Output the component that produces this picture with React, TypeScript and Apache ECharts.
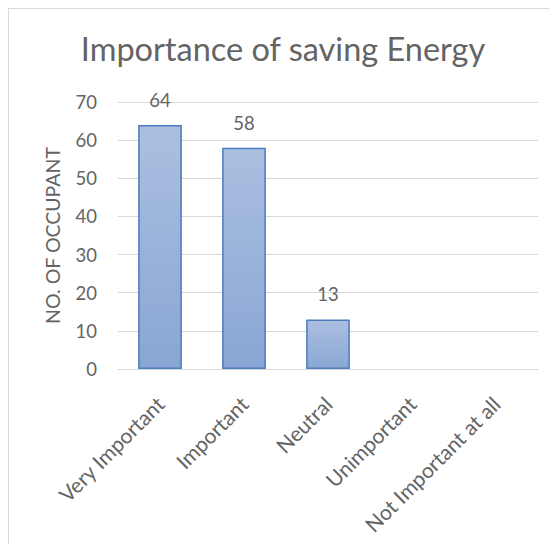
import React, { useEffect, useRef } from "react";
import * as echarts from "echarts";

const categories = ["Very Important", "Important", "Neutral", "Unimportant", "Not Important at all"];
const occupants = [64, 58, 13, 0, 0];
const yTicks = { min: 0, max: 70, interval: 10 };

const FONT = "Lato, 'Open Sans', sans-serif";
const TEXT = "#646464";

export default function App() {
  const ref = useRef<HTMLDivElement>(null);

  useEffect(() => {
    if (!ref.current) return;
    const chart = echarts.init(ref.current, undefined, { renderer: "svg" });
    chart.setOption({
      animation: false,
      backgroundColor: "#ffffff",
      title: {
        text: "Importance of saving Energy",
        left: "center",
        top: 18,
        textStyle: { color: TEXT, fontFamily: FONT, fontSize: 32.5, fontWeight: "normal" },
      },
      grid: { left: 109, right: 19, top: 93, bottom: 175, containLabel: false },
      xAxis: {
        type: "category",
        data: categories,
        axisLine: { show: true, lineStyle: { color: "#d9d9d9", width: 1 } },
        axisTick: { show: false },
        axisLabel: {
          interval: 0,
          rotate: 45,
          margin: 31,
          color: TEXT,
          fontFamily: FONT,
          fontSize: 21,
        },
      },
      yAxis: {
        type: "value",
        min: yTicks.min,
        max: yTicks.max,
        interval: yTicks.interval,
        name: "NO. OF OCCUPANT",
        nameLocation: "middle",
        nameRotate: 90,
        nameGap: 56,
        nameTextStyle: { color: TEXT, fontFamily: FONT, fontSize: 19.5 },
        axisLine: { show: false },
        axisTick: { show: false },
        splitLine: { lineStyle: { color: "#d9d9d9", width: 1 } },
        axisLabel: { margin: 21, color: TEXT, fontFamily: FONT, fontSize: 18.5 },
      },
      series: [
        {
          type: "bar",
          data: occupants.map((v) => (v > 0 ? v : null)),
          barWidth: "52%",
          itemStyle: {
            color: new echarts.graphic.LinearGradient(0, 0, 0, 1, [
              { offset: 0, color: "#abbfe0" },
              { offset: 1, color: "#89a6d4" },
            ]),
            borderColor: "#4a7bbf",
            borderWidth: 1.5,
          },
          label: {
            show: true,
            position: "top",
            distance: 15.5,
            color: TEXT,
            fontFamily: FONT,
            fontSize: 18.5,
          },
        },
      ],
    });
    return () => chart.dispose();
  }, []);

  return (
    <div
      style={{
        width: 549,
        height: 536,
        boxSizing: "border-box",
        borderLeft: "1px solid #d9d9d9",
        borderTop: "1px solid #d9d9d9",
        background: "#ffffff",
      }}
    >
      <div ref={ref} style={{ width: 548, height: 535 }} />
    </div>
  );
}
